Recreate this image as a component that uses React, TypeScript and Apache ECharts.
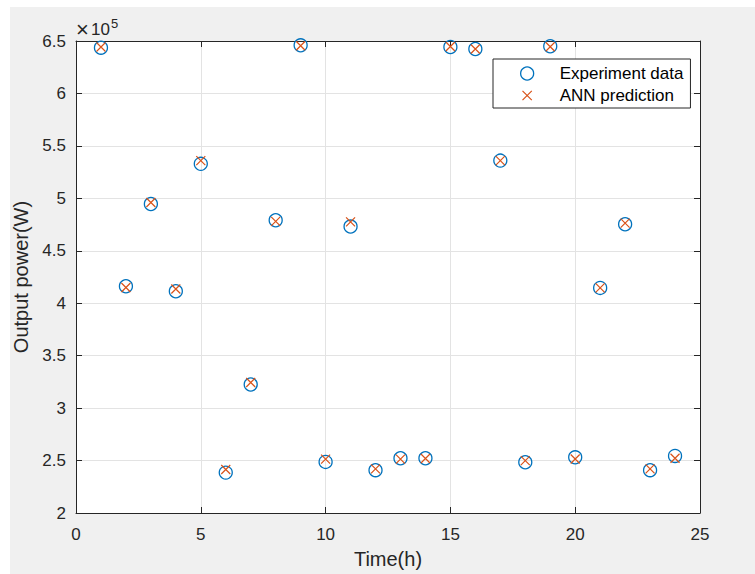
import React, { useEffect, useRef } from "react";
import * as echarts from "echarts";

const hours = [1, 2, 3, 4, 5, 6, 7, 8, 9, 10, 11, 12, 13, 14, 15, 16, 17, 18, 19, 20, 21, 22, 23, 24];
const experimentData = [643600, 416200, 494600, 411400, 532900, 238500, 322500, 479100, 645900, 248700, 473100, 240800, 252200, 252200, 644300, 642400, 536000, 248400, 645000, 253100, 414600, 475300, 240800, 254400];
const annPrediction = [644300, 415000, 496000, 413600, 536000, 241500, 324400, 478000, 645500, 251300, 477500, 242000, 251300, 252000, 644800, 642400, 536000, 250000, 644500, 251500, 414600, 476300, 242000, 252200];
const seriesNames = ["Experiment data", "ANN prediction"];

const FONT = "Liberation Sans";
const AXIS = "#262626";
const GRID = "#e3e3e3";
const CROSS = "path://M0,0L1,1M1,0L0,1";
const CROSS_LEGEND = "path://M-0.2,-0.2M1.2,1.2M0,0L1,1M1,0L0,1";

export default function App() {
  const ref = useRef<HTMLDivElement>(null);
  useEffect(() => {
    if (!ref.current) return;
    const chart = echarts.init(ref.current, undefined, { renderer: "svg" });
    const fmt = (v: number) => String(Number((v / 1e5).toFixed(1)));
    chart.setOption({
      animation: false,
      backgroundColor: "#ffffff",
      graphic: [
        { type: "rect", z: -10, shape: { x: 10, y: 7, width: 745, height: 567 }, style: { fill: "#f0f0f0" } },
      ],
      title: [
        { text: "×", left: 76, top: 18, padding: 0, textStyle: { fontFamily: FONT, fontSize: 22, fontWeight: "normal", color: AXIS } },
        { text: "10", left: 91, top: 21, padding: 0, textStyle: { fontFamily: FONT, fontSize: 17, fontWeight: "normal", color: AXIS } },
        { text: "5", left: 111, top: 17, padding: 0, textStyle: { fontFamily: FONT, fontSize: 13, fontWeight: "normal", color: AXIS } },
      ],
      grid: { left: 76, top: 41, right: 55, bottom: 59, show: true, backgroundColor: "#ffffff", borderWidth: 0 },
      legend: {
        orient: "vertical",
        left: 493,
        top: 59,
        padding: [6, 7, 4, 27],
        itemGap: 5,
        itemWidth: 13,
        itemHeight: 13,
        backgroundColor: "#ffffff",
        borderColor: AXIS,
        borderWidth: 1,
        borderRadius: 0,
        textStyle: { fontFamily: FONT, fontSize: 17, color: "#000000", padding: [0, 0, 0, 21] },
        data: [
          { name: seriesNames[0], icon: "circle", itemStyle: { color: "rgba(0,0,0,0)", borderColor: "#0072BD", borderWidth: 1.3 } },
          { name: seriesNames[1], icon: CROSS_LEGEND, itemStyle: { color: "rgba(0,0,0,0)", borderColor: "#D95319", borderWidth: 1.2 } },
        ],
      },
      xAxis: [
        {
          type: "value",
          min: 0,
          max: 25,
          interval: 5,
          name: "Time(h)",
          nameLocation: "middle",
          nameGap: 36,
          nameTextStyle: { fontFamily: FONT, fontSize: 20, color: AXIS },
          axisLine: { show: true, onZero: false, lineStyle: { color: AXIS, width: 1 } },
          axisTick: { show: true, inside: true, length: 6, lineStyle: { color: AXIS } },
          axisLabel: { fontFamily: FONT, fontSize: 17, color: AXIS, margin: 13 },
          splitLine: { show: true, lineStyle: { color: GRID, width: 1 } },
        },
        {
          type: "value",
          position: "top",
          min: 0,
          max: 25,
          interval: 5,
          axisLine: { show: true, onZero: false, lineStyle: { color: AXIS, width: 1 } },
          axisTick: { show: true, inside: true, length: 6, lineStyle: { color: AXIS } },
          axisLabel: { show: false },
          splitLine: { show: false },
        },
      ],
      yAxis: [
        {
          type: "value",
          min: 200000,
          max: 650000,
          interval: 50000,
          name: "Output power(W)",
          nameLocation: "middle",
          nameGap: 42,
          nameTextStyle: { fontFamily: FONT, fontSize: 20, color: AXIS },
          axisLine: { show: true, onZero: false, lineStyle: { color: AXIS, width: 1 } },
          axisTick: { show: true, inside: true, length: 6, lineStyle: { color: AXIS } },
          axisLabel: { fontFamily: FONT, fontSize: 17, color: AXIS, margin: 10, formatter: fmt },
          splitLine: { show: true, lineStyle: { color: GRID, width: 1 } },
        },
        {
          type: "value",
          position: "right",
          min: 200000,
          max: 650000,
          interval: 50000,
          axisLine: { show: true, onZero: false, lineStyle: { color: AXIS, width: 1 } },
          axisTick: { show: true, inside: true, length: 6, lineStyle: { color: AXIS } },
          axisLabel: { show: false },
          splitLine: { show: false },
        },
      ],
      series: [
        {
          name: seriesNames[0],
          type: "scatter",
          xAxisIndex: 0,
          yAxisIndex: 0,
          clip: false,
          symbol: "circle",
          symbolSize: 13,
          itemStyle: { color: "rgba(0,0,0,0)", borderColor: "#0072BD", borderWidth: 1.3, opacity: 1 },
          emphasis: { disabled: true },
          data: hours.map((h, i) => [h, experimentData[i]]),
          z: 3,
        },
        {
          name: seriesNames[1],
          type: "scatter",
          xAxisIndex: 0,
          yAxisIndex: 0,
          clip: false,
          symbol: CROSS,
          symbolSize: 9,
          itemStyle: { color: "rgba(0,0,0,0)", borderColor: "#D95319", borderWidth: 1.2, opacity: 1 },
          emphasis: { disabled: true },
          data: hours.map((h, i) => [h, annPrediction[i]]),
          z: 4,
        },
      ],
    });
    return () => chart.dispose();
  }, []);
  return (
    <div
      ref={ref}
      style={{ position: "fixed", left: 0, top: 0, width: 755, height: 574 }}
    />
  );
}
